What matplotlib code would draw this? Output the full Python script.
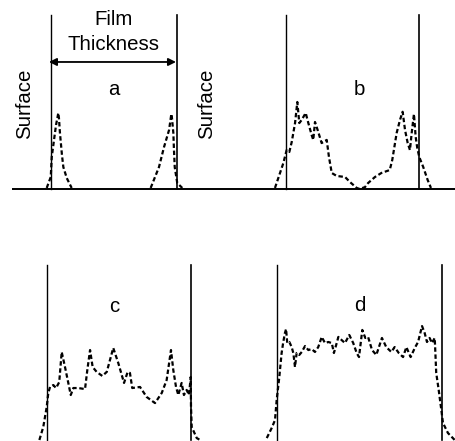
import matplotlib
matplotlib.use('Agg')
import matplotlib.pyplot as plt

plt.rcParams['font.family'] = ['Liberation Sans', 'DejaVu Sans']

#%% data: depth across the film (0 and 100 = the two surfaces), intensity (0 = baseline)
a_x = [-3.4, -0.2, 0.6, 2.4, 4.0, 5.8, 6.3, 7.1, 8.7, 9.8, 12.5, 16.4]
a_y = [0.6, 6.9, 18.4, 28.2, 36.8, 43.7, 40.8, 32.2, 19.5, 12.6, 6.3, 0.6]
a2_x = [79.1, 85.7, 89.7, 93.7, 95.5, 96.0, 97.1, 97.6, 98.2, 100.2, 104.2]
a2_y = [0.6, 12.6, 24.1, 33.9, 43.1, 40.8, 32.2, 22.4, 12.6, 3.4, 0.6]

b_x = [-8.3, -4.5, -2.0, 0.5, 2.5, 4.3, 6.8, 8.5, 10.0, 11.8, 14.8, 16.8, 19.3, 20.5,
       21.8, 23.8, 26.8, 30.6, 32.3, 34.4, 38.1, 44.4, 48.1, 53.2, 55.4, 59.4, 61.7,
       66.9, 71.7, 78.0, 79.9, 83.2, 85.7, 87.7, 89.5, 91.5, 93.2, 94.5, 96.2, 97.5,
       98.7, 100.2, 103.2, 106.5, 109.0]
b_y = [0.6, 9.2, 14.9, 22.4, 21.3, 27.0, 37.9, 50.0, 37.9, 39.7, 43.7, 37.9, 31.0, 28.2,
       38.5, 33.9, 26.4, 28.2, 18.4, 9.2, 7.5, 6.9, 4.0, 0.6, 0.0, 1.1, 3.4,
       6.9, 9.2, 10.9, 16.7, 32.2, 39.7, 44.4, 33.9, 26.4, 22.4, 32.2, 43.1, 29.9,
       23.6, 18.4, 12.6, 5.2, 0.6]

c_x = [-5.3, -2.6, -0.2, 0.9, 2.1, 4.4, 6.3, 8.5, 10.2, 12.5, 14.8, 16.5, 18.3, 21.7,
       26.4, 28.0, 29.9, 31.7, 34.5, 38.4, 41.5, 46.0, 49.5, 53.5, 56.0, 57.6, 59.2,
       64.6, 69.2, 75.0, 79.7, 83.1, 86.1, 87.7, 89.6, 91.2, 93.5, 95.1, 97.0, 98.6,
       99.8, 100.0, 100.5, 104.0, 106.3]
c_y = [0.0, 7.4, 18.9, 26.9, 30.3, 31.4, 29.7, 33.1, 50.3, 41.7, 32.6, 25.7, 29.7, 29.7,
       29.1, 40.0, 51.4, 41.7, 38.9, 36.6, 38.9, 52.6, 44.0, 32.6, 38.9, 38.3, 29.7,
       30.3, 24.6, 21.1, 26.9, 34.3, 51.4, 40.0, 30.3, 25.7, 32.6, 25.7, 28.6, 25.7,
       36.0, 18.9, 7.4, 1.1, 0.0]

d_x = [-6.2, -3.2, -1.2, -0.2, 1.4, 2.8, 3.8, 4.8, 5.5, 6.2, 7.5, 8.9, 9.9, 10.9, 11.9,
       13.5, 15.0, 17.0, 19.0, 21.0, 23.0, 25.0, 27.1, 29.1, 31.1, 33.2, 34.5, 37.2,
       39.2, 41.2, 43.8, 46.2, 48.3, 49.7, 51.7, 53.5, 55.2, 57.6, 60.2, 63.6, 66.2,
       69.3, 71.3, 73.8, 76.4, 78.4, 81.0, 83.5, 85.5, 87.9, 89.5, 90.9, 92.5, 93.9,
       95.6, 96.5, 98.0, 99.6, 100.6, 103.6, 107.7]
d_y = [1.1, 6.9, 11.4, 22.9, 36.0, 49.7, 56.0, 61.1, 63.4, 55.4, 56.0, 53.1, 49.7, 41.7, 49.7,
       48.6, 50.3, 53.7, 51.4, 52.0, 50.3, 53.1, 58.9, 55.4, 56.0, 55.4, 49.7, 58.9,
       57.1, 55.4, 60.0, 55.4, 49.7, 47.4, 62.9, 58.3, 58.9, 51.4, 48.6, 58.3, 53.1,
       50.3, 53.1, 49.7, 47.4, 53.1, 47.4, 52.6, 56.0, 65.1, 61.1, 56.0, 58.3, 55.4,
       58.3, 38.3, 28.6, 17.1, 9.7, 4.0, 0.0]

labels = ['a', 'b', 'c', 'd']

#%% layout helpers (pixel geometry of the 456x441 picture)
W, H = 456, 441


def make_panel(fig, box, surf, base_py, top_py):
    # box = (left, right, top, bottom) in px; surf = px of the two surfaces
    L, R, T, B = box
    s0, s1 = surf
    ax = fig.add_axes([L / W, 1 - B / H, (R - L) / W, (B - T) / H])
    sx = 100.0 / (s1 - s0)
    sy = 100.0 / (base_py - top_py)
    ax.set_xlim((L - s0) * sx, (R - s0) * sx)
    ax.set_ylim((base_py - B) * sy, (base_py - T) * sy)
    ax.axis('off')
    return ax


dash = dict(color='k', lw=1.6, ls=(0, (2.0, 1.2)))
fig = plt.figure(figsize=(W / 100, H / 100), dpi=100)

ax_a = make_panel(fig, (12, 228, 0, 220), (51, 177), 189, 15)
ax_b = make_panel(fig, (228, 456, 0, 220), (286, 419), 189, 15)
ax_c = make_panel(fig, (0, 228, 220, 441), (47, 191), 440, 265)
ax_d = make_panel(fig, (228, 456, 220, 441), (277, 442), 440, 265)

curves = [[(a_x, a_y), (a2_x, a2_y)], [(b_x, b_y)], [(c_x, c_y)], [(d_x, d_y)]]
for ax, cv in zip([ax_a, ax_b, ax_c, ax_d], curves):
    for xs, ys in cv:
        ax.plot(xs, ys, **dash)
    ax.plot([0, 0], [0, 100], color='k', lw=1.0)
    ax.plot([100, 100], [0, 100], color='k', lw=1.2)

for ax in [ax_a, ax_b]:
    ax.axhline(0, color='k', lw=1.4)

fs = 14.7
ax_a.text(50, 54.0, 'a', ha='center', va='baseline', fontsize=fs)
ax_b.text(55.4, 54.0, 'b', ha='center', va='baseline', fontsize=fs)
ax_c.text(46.7, 73.3, 'c', ha='center', va='baseline', fontsize=fs)
ax_d.text(50.1, 73.7, 'd', ha='center', va='baseline', fontsize=fs)

ax_a.text(50, 94.3, 'Film', ha='center', va='baseline', fontsize=fs)
ax_a.text(50, 79.9, 'Thickness', ha='center', va='baseline', fontsize=fs)
ax_a.annotate('', xy=(-1.6, 73.0), xytext=(99.2, 73.0),
              arrowprops=dict(arrowstyle='<|-|>', color='k', lw=1.3,
                              shrinkA=0, shrinkB=0, mutation_scale=11))
ax_a.text(-21.4, 48.9, 'Surface', rotation=90, ha='center', va='center', fontsize=fs)
ax_a.text(123.4, 48.9, 'Surface', rotation=90, ha='center', va='center', fontsize=fs)

fig.savefig('out.png', dpi=100)
